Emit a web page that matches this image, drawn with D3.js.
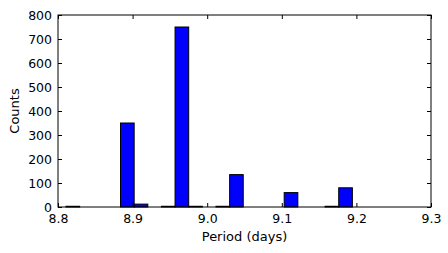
<!DOCTYPE html>
<html>
<head>
<meta charset="utf-8">
<script src="https://cdn.jsdelivr.net/npm/d3@7"></script>
<style>
  body { margin: 0; background: #fff; }
  text { font-family: "DejaVu Sans", sans-serif; font-size: 13px; fill: #000; }
</style>
</head>
<body>
<svg id="chart" width="448" height="253"></svg>
<script>
// histogram bins (period, days) and counts
var binEdges = [8.8107, 8.8290, 8.8473, 8.8655, 8.8838, 8.9021, 8.9204, 8.9387,
  8.9569, 8.9752, 8.9935, 9.0118, 9.0301, 9.0483, 9.0666, 9.0849, 9.1032,
  9.1215, 9.1397, 9.1580, 9.1763, 9.1946];
var counts = [3, 0, 0, 0, 350, 12, 0, 3, 750, 3, 0, 3, 135, 0, 0, 0, 60, 0, 0, 3, 80];
var xTicks = [8.8, 8.9, 9.0, 9.1, 9.2, 9.3];
var yTicks = [0, 100, 200, 300, 400, 500, 600, 700, 800];

var margin = { top: 15, right: 17, bottom: 46, left: 58 },
  width = 448 - margin.left - margin.right,
  height = 253 - margin.top - margin.bottom;

var x = d3.scaleLinear().domain([8.8, 9.3]).range([0, width]);
var y = d3.scaleLinear().domain([0, 800]).range([height, 0]);

var svg = d3.select("#chart")
  .append("g")
  .attr("transform", "translate(" + margin.left + "," + margin.top + ")");

var bins = counts.map(function(c, i) {
  return { x0: binEdges[i], x1: binEdges[i + 1], count: c };
});

svg.selectAll(".bar")
  .data(bins)
  .enter()
  .append("rect")
  .attr("class", "bar")
  .attr("x", function(d) { return x(d.x0); })
  .attr("y", function(d) { return y(d.count); })
  .attr("width", function(d) { return x(d.x1) - x(d.x0); })
  .attr("height", function(d) { return height - y(d.count); })
  .attr("fill", "#0000ff")
  .attr("stroke", "#000")
  .attr("stroke-width", 1);

// inward ticks on all four sides, matplotlib classic look
var tick = 4;
function styleAxis(g) {
  g.select(".domain").remove();
  g.selectAll(".tick line").attr("stroke", "#000");
  g.selectAll(".tick text")
    .style("font-family", "DejaVu Sans, sans-serif")
    .style("font-size", "12.5px");
}

svg.append("g")
  .attr("transform", "translate(0," + height + ")")
  .call(d3.axisBottom(x).tickValues(xTicks).tickFormat(d3.format(".1f"))
    .tickSizeInner(-tick).tickPadding(7))
  .call(styleAxis);

svg.append("g")
  .call(d3.axisTop(x).tickValues(xTicks).tickSizeInner(-tick).tickFormat(""))
  .call(styleAxis);

svg.append("g")
  .call(d3.axisLeft(y).tickValues(yTicks).tickSizeInner(-tick).tickPadding(6))
  .call(styleAxis);

svg.append("g")
  .attr("transform", "translate(" + width + ",0)")
  .call(d3.axisRight(y).tickValues(yTicks).tickSizeInner(-tick).tickFormat(""))
  .call(styleAxis);

svg.append("rect")
  .attr("x", 0)
  .attr("y", 0)
  .attr("width", width)
  .attr("height", height)
  .attr("fill", "none")
  .attr("stroke", "#000")
  .attr("stroke-width", 1);

svg.append("text")
  .attr("x", width / 2)
  .attr("y", height + 34)
  .attr("text-anchor", "middle")
  .text("Period (days)");

svg.append("text")
  .attr("transform", "translate(" + (-39) + "," + height / 2 + ") rotate(-90)")
  .attr("text-anchor", "middle")
  .text("Counts");
</script>
</body>
</html>
